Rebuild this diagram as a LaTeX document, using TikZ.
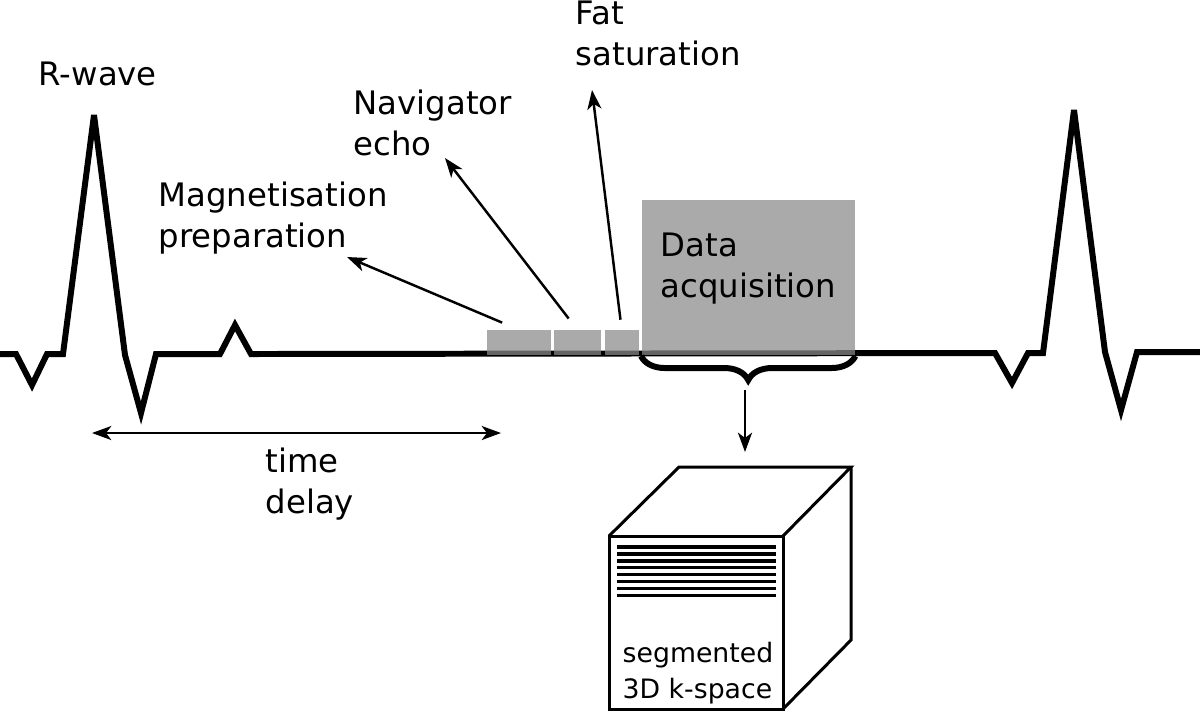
\documentclass[tikz,border=0pt]{standalone}
\usepackage{fontspec}
\setmainfont{DejaVu Sans}
\usepackage{xcolor}
\usetikzlibrary{calc}
\usetikzlibrary{arrows.meta}
\usetikzlibrary{decorations.pathreplacing}
\definecolor{blkgray}{RGB}{138,138,138}
\newcommand\labfont{\fontsize{9.2}{11.4}\selectfont}
\newcommand\cubefont{\fontsize{7.6}{10.2}\selectfont}
\tikzset{>={Stealth[length=5.5pt,width=4pt,inset=1.5pt]},
  ecg/.style={line width=1.7pt, line join=miter, miter limit=4},
  lbl/.style={anchor=base west, inner sep=0pt, align=left, font=\labfont},
  blk/.style={fill=blkgray, fill opacity=0.73, anchor=south west, inner sep=0pt},
  ptr/.style={->, line width=0.7pt},
  cube/.style={line width=0.85pt, line join=miter},
}
\begin{document}
\begin{tikzpicture}[
     x=0.1mm,y=-0.1mm,        % pixel grid, y down
  ]
  \useasboundingbox (0,0) rectangle (1200,711);
  % ECG trace, two R-waves
  \draw[ecg] (0,354) -- (16,354) -- (32,385) -- (47,354) -- (63,354)
    -- (94,115) -- (125,355) -- (141,413) -- (156,354) -- (220,354)
    -- (235,325) -- (251,354) -- (995,353) -- (1012,383) -- (1028,353)
    -- (1043,353) -- (1074,110) -- (1105,352) -- (1121,410) -- (1137,352)
    -- (1200,352);
  % sequence blocks
  \node[blk, minimum width=6.4mm, minimum height=2.5mm] (mp) at (486,356) {};
  \node[blk, minimum width=4.7mm, minimum height=2.5mm] (ne) at (553,356) {};
  \node[blk, minimum width=3.4mm, minimum height=2.5mm] (fs) at (604,356) {};
  \node[blk, minimum width=21.3mm, minimum height=15.5mm] (acq) at (641,356) {};
  \node[lbl] (acqtxt) at (660,297) {Data\\acquisition};
  % labels (base = last line)
  \node[lbl] (rwave) at (38,85) {R-wave};
  \node[lbl] (magprep) at (158,247) {Magnetisation\\preparation};
  \node[lbl] (navecho) at (353,155) {Navigator\\echo};
  \node[lbl] (fatsat) at (575,65) {Fat\\saturation};
  \coordinate (magtip) at (347,257);
  \coordinate (navtip) at (445,158);
  \coordinate (fattip) at (592,90);
  \draw[ptr, shorten <=1.8mm] (mp.north) -- (magtip);
  \draw[ptr, shorten <=1.4mm] (ne.north) -- (navtip);
  \draw[ptr, shorten <=1mm] (fs.north) -- (fattip);
  % time delay
  \coordinate (tdl) at (92,433);
  \coordinate (tdr) at (501,433);
  \draw[<->, line width=0.6pt] (tdl) -- (tdr);
  \node[lbl] (delay) at (265,513) {time\\delay};
  % brace under acquisition
  \draw[line width=1.7pt, decorate, decoration={brace, amplitude=2.4mm}]
    (acq.south east) -- (acq.south west);
  \coordinate (brtip) at (745,390);
  \coordinate (cubein) at (745,452);
  \draw[ptr] (brtip) -- (cubein);
  % k-space cube
  \def\dy{6.95}
  \draw[cube] (609,536) rectangle (783,709);
  \draw[cube] (609,536) -- (679,467) -- (851,467) -- (783,536);
  \draw[cube] (851,467) -- (851,640) -- (783,709);
  \foreach \i in {0,...,7}
    \draw[line width=0.9pt] (617,547+\i*\dy) -- (776,547+\i*\dy);
  \node[lbl, font=\cubefont] (kspace) at (622,698) {segmented\\3D k-space};
\end{tikzpicture}
\end{document}
